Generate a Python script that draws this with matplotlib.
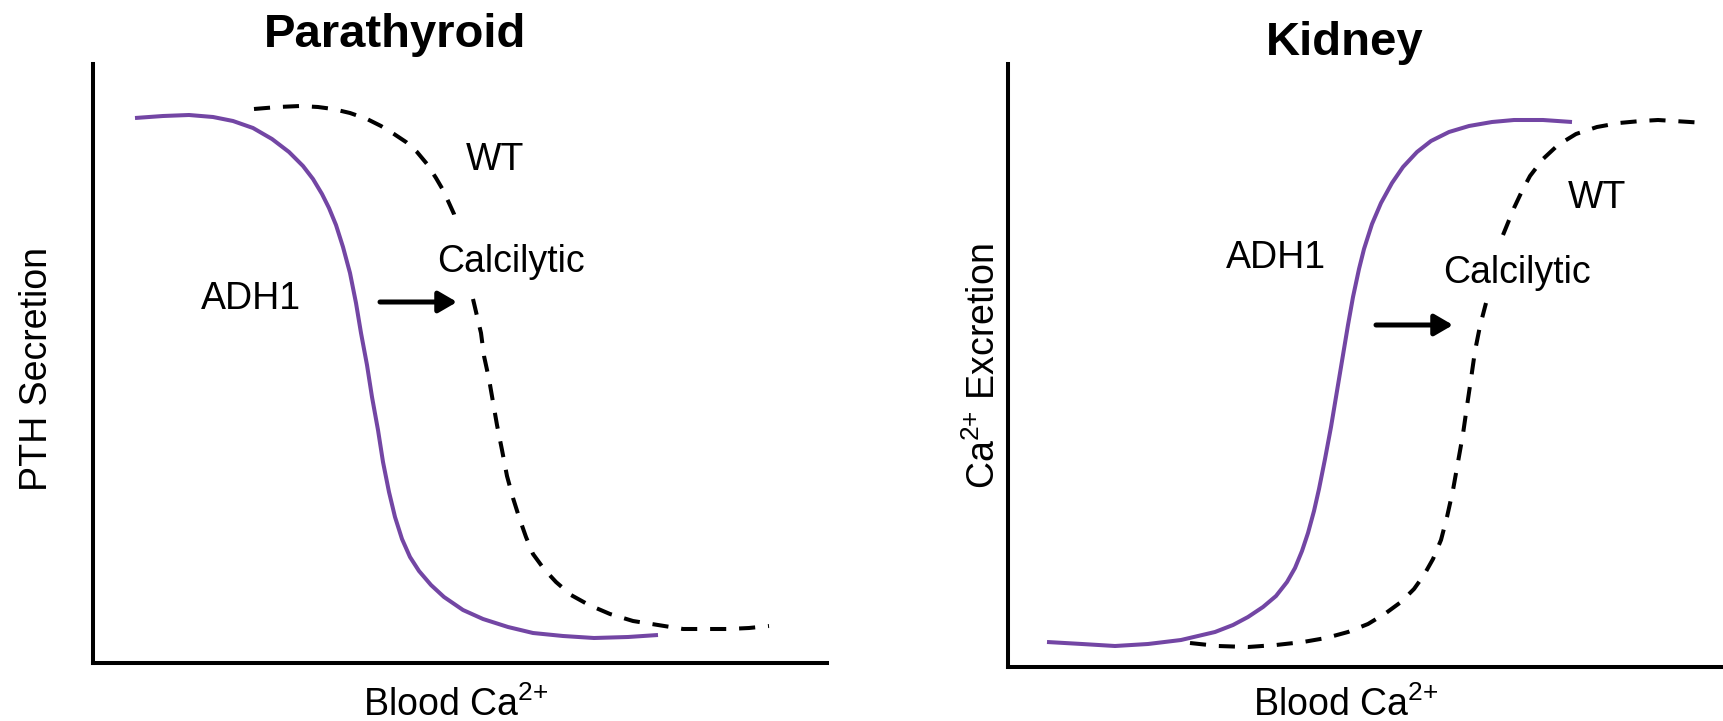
import numpy as np
import matplotlib
matplotlib.use('Agg')
import matplotlib.pyplot as plt

plt.rcParams['font.family'] = 'Liberation Sans'
plt.rcParams['mathtext.fontset'] = 'custom'
plt.rcParams['mathtext.rm'] = 'Liberation Sans'

nan = np.nan

#======================================================================
#    Dose-response curves (arbitrary units: blood Ca along x, response up y)
# Parathyroid: PTH secretion falls as blood Ca rises
para_adh1_x = [42, 70, 96, 120, 140, 160, 179, 196, 210, 220, 229, 236, 243, 250, 257, 263, 268, 274,
               279, 285, 290, 296, 302, 309, 317, 326, 338, 351, 370, 390, 415, 440, 470, 501, 535, 565]
para_adh1_y = [545, 547, 548, 546, 542, 535, 524, 511, 497, 484, 469, 455, 438, 416, 390, 360, 330, 298,
               266, 233, 201, 171, 146, 124, 106, 92, 78, 66, 53, 44, 36, 30, 27, 25, 26, 28]
# wild type curve is broken where the "Calcilytic" label sits
para_wt_x = [161, 185, 207, 225, 240, 257, 274, 288, 301, 313, 324, 334, 343, 350, 356, 361, 364,
             nan, 380, 384, 388, 391, 396, 400, 404, 409, 414, 420, 426, 433, 440, 451, 463, 478, 496,
             517, 540, 565, 590, 612, 635, 656, 676]
para_wt_y = [554, 556, 557, 556, 554, 550, 544, 537, 529, 521, 511, 499, 485, 473, 460, 449, 438,
             nan, 364, 347, 330, 307, 284, 261, 238, 213, 187, 165, 146, 126, 109, 94, 81, 68, 58,
             49, 42, 38, 34, 34, 34, 35, 37]

# Kidney: Ca excretion rises with blood Ca
kid_adh1_x = [39, 74, 107, 140, 173, 207, 225, 240, 255, 268, 279, 287, 294, 300, 306, 311, 317, 323,
              328, 334, 340, 345, 351, 356, 364, 373, 384, 395, 409, 423, 441, 461, 484, 506, 535, 564]
kid_adh1_y = [25, 23, 21, 23, 27, 35, 42, 50, 60, 71, 85, 99, 116, 134, 156, 178, 208, 240,
              270, 306, 342, 370, 398, 418, 443, 464, 484, 500, 515, 526, 535, 541, 545, 547, 547, 545]
# wild type curve is broken where the "Calcilytic" label sits
kid_wt_x = [182, 210, 240, 268, 295, 318, 340, 360, 378, 393, 406, 416, 425, 433, 439, 445, 450, 455,
            459, 463, 467, 472, 478, nan, 495, 506, 514, 522, 535, 550, 568, 589, 611, 633, 650, 666,
            682, 697]
kid_wt_y = [24, 21, 20, 22, 25, 29, 35, 43, 54, 65, 78, 92, 108, 127, 150, 177, 205, 233,
            261, 288, 316, 341, 364, nan, 432, 459, 476, 491, 508, 522, 533, 540, 544, 546, 547, 546,
            545, 544]

# label positions and the shift arrows (same units as the curves)
para_labels = [('WT', 402, 493), ('Calcilytic', 418, 391), ('ADH1', 158, 354)]
kid_labels = [('ADH1', 268, 399), ('Calcilytic', 509, 384), ('WT', 589, 459)]
para_arrow = (287, 364, 361)
kid_arrow = (368, 445, 342)

purple = '#7346a4'
W, H = 1724, 721
lw = 2.9
fs = 27
ca = r'Ca$^{\text{2+}}$'


def px_axes(fig, x0, y0, x1, y1):
    return fig.add_axes([x0 / W, 1 - y1 / H, (x1 - x0) / W, (y1 - y0) / H])


def panel(ax, xmax, ymax, adh_x, adh_y, wt_x, wt_y, labels, arrow):
    ax.plot(adh_x, adh_y, color=purple, lw=lw, solid_capstyle='butt',
            solid_joinstyle='round')
    ax.plot(wt_x, wt_y, color='black', lw=lw, linestyle=(0, (4, 3.2)),
            dash_capstyle='butt')
    for txt, x, y in labels:
        ax.text(x, y, txt, fontsize=fs, ha='center', va='baseline')
    x0, x1, y = arrow
    ax.annotate('', xy=(x1, y), xytext=(x0, y),
                arrowprops=dict(arrowstyle='-|>,head_length=0.55,head_width=0.32',
                                lw=3.6, color='black', shrinkA=0, shrinkB=0,
                                mutation_scale=20))
    ax.set_xlim(0, xmax)
    ax.set_ylim(0, ymax)
    for side in ['top', 'right']:
        ax.spines[side].set_visible(False)
    for side in ['left', 'bottom']:
        ax.spines[side].set_linewidth(lw)
    ax.set_xticks([])
    ax.set_yticks([])
    ax.patch.set_alpha(0)


fig = plt.figure(figsize=(W / 100, H / 100), dpi=100)

ax1 = px_axes(fig, 93, 64, 827, 663)
panel(ax1, 734, 599, para_adh1_x, para_adh1_y, para_wt_x, para_wt_y,
      para_labels, para_arrow)

ax2 = px_axes(fig, 1008, 64, 1724, 667)
panel(ax2, 716, 603, kid_adh1_x, kid_adh1_y, kid_wt_x, kid_wt_y,
      kid_labels, kid_arrow)

# titles and axis labels
fig.text(395 / W, 1 - 47 / H, 'Parathyroid', fontsize=34, fontweight='bold',
         ha='center', va='baseline')
fig.text(1345 / W, 1 - 55 / H, 'Kidney', fontsize=34, fontweight='bold',
         ha='center', va='baseline')
fig.text(456 / W, 1 - 716 / H, 'Blood ' + ca, fontsize=fs,
         ha='center', va='baseline')
fig.text(1346 / W, 1 - 716 / H, 'Blood ' + ca, fontsize=fs,
         ha='center', va='baseline')
fig.text(47 / W, 1 - 369 / H, 'PTH Secretion', fontsize=fs, rotation=90,
         rotation_mode='anchor', ha='center', va='baseline')
fig.text(995 / W, 1 - 366 / H, ca + ' Excretion', fontsize=fs,
         rotation=90, rotation_mode='anchor', ha='center', va='baseline')

fig.savefig('out.png', dpi=100, facecolor='white')
